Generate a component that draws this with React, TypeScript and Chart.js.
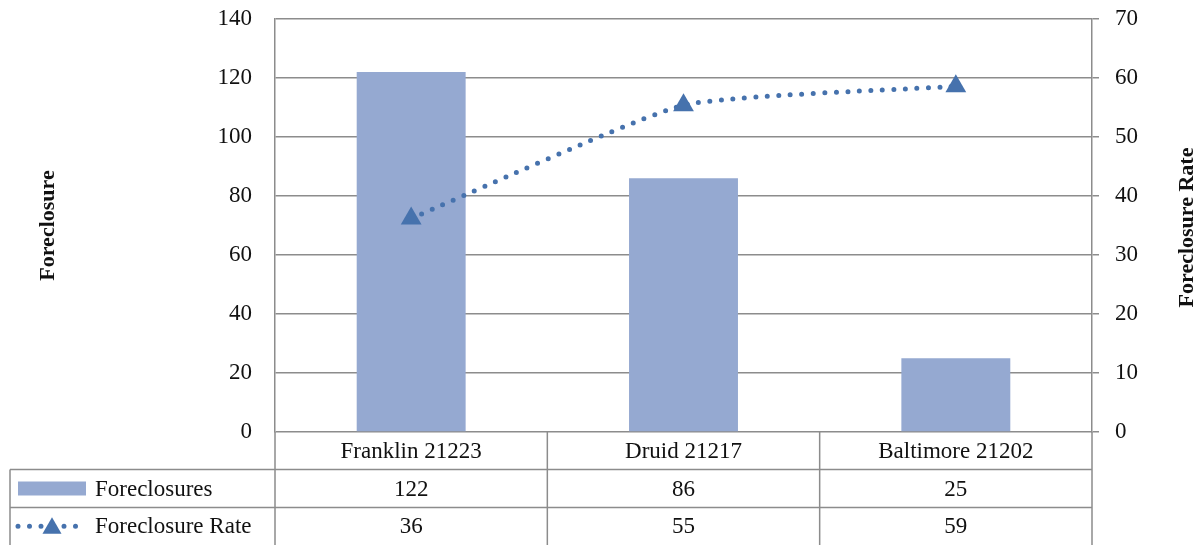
import React, { useEffect, useRef } from "react";
import { Chart, registerables } from "chart.js";

Chart.register(...registerables);

const categories = ["Franklin 21223", "Druid 21217", "Baltimore 21202"];
const foreclosures = [122, 86, 25];
const foreclosureRate = [36.2, 55.4, 58.6];
const seriesNames = ["Foreclosures", "Foreclosure Rate"];
const leftTitle = "Foreclosure";
const rightTitle = "Foreclosure Rate";

const BAR_COLOR = "#95A9D1";
const LINE_COLOR = "#4672AD";
const GRID = "#8C8C8C";
const FONT = "'Liberation Serif', 'Times New Roman', serif";
const TEXT = "#111";

function drawTriangle(ctx: CanvasRenderingContext2D, x: number, y: number, r: number) {
  ctx.beginPath();
  let rad = 0;
  ctx.moveTo(x + Math.sin(rad) * r, y - Math.cos(rad) * r);
  rad += (2 * Math.PI) / 3;
  ctx.lineTo(x + Math.sin(rad) * r, y - Math.cos(rad) * r);
  rad += (2 * Math.PI) / 3;
  ctx.lineTo(x + Math.sin(rad) * r, y - Math.cos(rad) * r);
  ctx.closePath();
  ctx.fill();
}

const tablePlugin = {
  id: "dataTable",
  afterDraw(chart: any) {
    const { ctx, chartArea, scales } = chart;
    const x = scales.x;
    const H = chart.height;
    const left = chartArea.left;
    const right = chartArea.right;
    const bottom = chartArea.bottom;
    const tableLeft = 10;
    const r1 = bottom + 37.5;
    const r2 = bottom + 75.5;
    const r3 = H;
    const n = categories.length;
    const step = (right - left) / n;

    ctx.save();
    ctx.strokeStyle = GRID;
    ctx.lineWidth = 1.5;
    ctx.beginPath();
    ctx.moveTo(tableLeft, r1);
    ctx.lineTo(right, r1);
    ctx.moveTo(tableLeft, r2);
    ctx.lineTo(right, r2);
    ctx.moveTo(tableLeft, r1);
    ctx.lineTo(tableLeft, r3);
    for (let i = 0; i <= n; i++) {
      const vx = left + step * i;
      ctx.moveTo(vx, bottom);
      ctx.lineTo(vx, r3);
    }
    ctx.stroke();

    ctx.fillStyle = TEXT;
    ctx.font = `23px ${FONT}`;
    ctx.textAlign = "center";
    ctx.textBaseline = "middle";
    const rows = [foreclosures, foreclosureRate];
    for (let i = 0; i < n; i++) {
      const cx = x.getPixelForValue(i);
      ctx.fillText(categories[i], cx, (bottom + r1) / 2 + 1);
      ctx.fillText(String(Math.round(rows[0][i])), cx, (r1 + r2) / 2 + 1);
      ctx.fillText(String(Math.round(rows[1][i])), cx, (r2 + r3) / 2 + 1);
    }
    ctx.textAlign = "left";
    ctx.fillText(seriesNames[0], 95, (r1 + r2) / 2 + 1);
    ctx.fillText(seriesNames[1], 95, (r2 + r3) / 2 + 1);

    ctx.fillStyle = BAR_COLOR;
    ctx.fillRect(18, (r1 + r2) / 2 - 7, 68, 14);
    const ly = (r2 + r3) / 2;
    ctx.strokeStyle = LINE_COLOR;
    ctx.lineWidth = 5;
    ctx.lineCap = "round";
    ctx.setLineDash([0, 11.5]);
    ctx.beginPath();
    ctx.moveTo(18, ly);
    ctx.lineTo(80, ly);
    ctx.stroke();
    ctx.setLineDash([]);
    ctx.fillStyle = LINE_COLOR;
    drawTriangle(ctx, 52, ly + 2, 11);

    ctx.fillStyle = TEXT;
    ctx.font = `bold 22px ${FONT}`;
    ctx.textAlign = "center";
    ctx.textBaseline = "middle";
    const cy = (chartArea.top + chartArea.bottom) / 2;
    ctx.translate(48, cy);
    ctx.rotate(-Math.PI / 2);
    ctx.fillText(leftTitle, 0, 0);
    ctx.setTransform(1, 0, 0, 1, 0, 0);
    ctx.translate(1187, cy + 2);
    ctx.rotate(-Math.PI / 2);
    ctx.fillText(rightTitle, 0, 0);
    ctx.restore();
  },
};

export default function App() {
  const canvasRef = useRef<HTMLCanvasElement | null>(null);

  useEffect(() => {
    document.body.style.margin = "0";
    const canvas = canvasRef.current;
    if (!canvas) return;
    const chart = new Chart(canvas, {
      type: "bar",
      data: {
        labels: categories,
        datasets: [
          {
            type: "line",
            label: seriesNames[1],
            data: foreclosureRate,
            yAxisID: "y1",
            order: 0,
            borderColor: LINE_COLOR,
            backgroundColor: LINE_COLOR,
            borderWidth: 5,
            borderDash: [0, 11.5],
            borderCapStyle: "round",
            tension: 0.15,
            pointStyle: "triangle",
            pointRadius: 12,
            pointBackgroundColor: LINE_COLOR,
            pointBorderColor: LINE_COLOR,
            pointBorderWidth: 0,
            fill: false,
          } as any,
          {
            type: "bar",
            label: seriesNames[0],
            data: foreclosures,
            yAxisID: "y",
            order: 1,
            backgroundColor: BAR_COLOR,
            borderWidth: 0,
            barPercentage: 0.4,
            categoryPercentage: 1,
          },
        ],
      },
      options: {
        responsive: true,
        maintainAspectRatio: false,
        animation: false,
        layout: { padding: { top: 19, bottom: 113, left: 0, right: 0 } },
        plugins: {
          legend: { display: false },
          tooltip: { enabled: false },
        },
        scales: {
          x: {
            display: false,
            offset: true,
          },
          y: {
            position: "left",
            min: 0,
            max: 140,
            ticks: {
              stepSize: 20,
              padding: 23,
              color: TEXT,
              font: { family: FONT, size: 23 },
            },
            grid: {
              color: GRID,
              lineWidth: 1.5,
              drawTicks: false,
            },
            border: { display: true, color: GRID, width: 1.5 },
            afterFit: (s: any) => {
              s.width = 275;
              s.paddingTop = 0;
              s.paddingBottom = 0;
            },
          },
          y1: {
            position: "right",
            min: 0,
            max: 70,
            ticks: {
              stepSize: 10,
              padding: 16,
              color: TEXT,
              font: { family: FONT, size: 23 },
            },
            grid: {
              drawOnChartArea: false,
              drawTicks: true,
              tickLength: 7,
              color: GRID,
              lineWidth: 1.5,
            },
            border: { display: true, color: GRID, width: 1.5 },
            afterFit: (s: any) => {
              s.width = 112;
              s.paddingTop = 0;
              s.paddingBottom = 0;
            },
          },
        },
      } as any,
      plugins: [tablePlugin],
    });
    return () => chart.destroy();
  }, []);

  return (
    <div style={{ width: 1204, height: 545, position: "relative" }}>
      <canvas ref={canvasRef} />
    </div>
  );
}
